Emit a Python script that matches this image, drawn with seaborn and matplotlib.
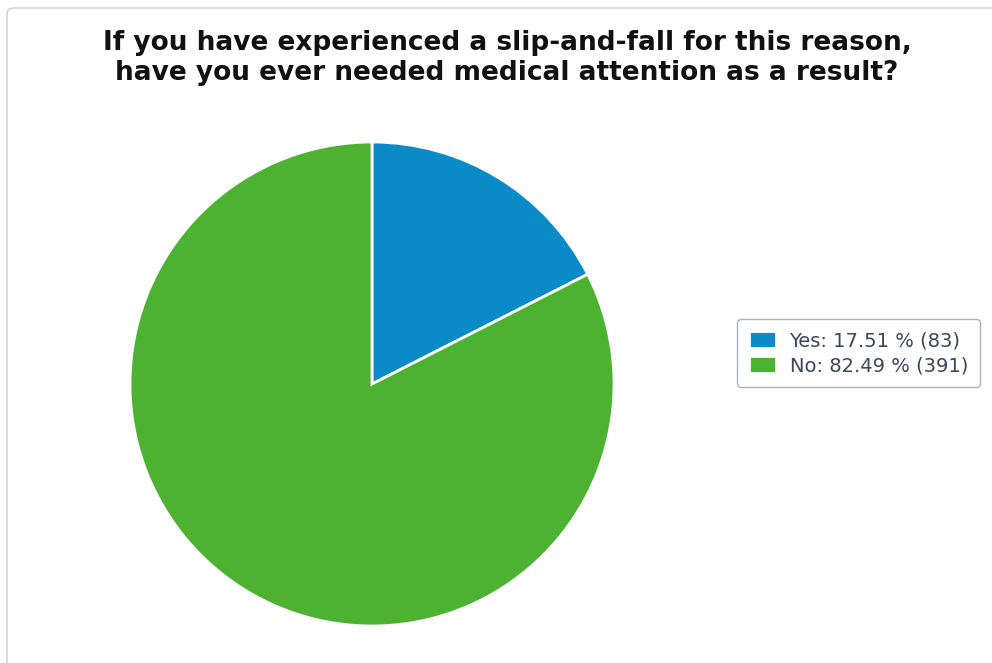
import matplotlib
matplotlib.use("Agg")
import matplotlib.pyplot as plt
from matplotlib.patches import FancyBboxPatch
import seaborn as sns

labels = ["Yes", "No"]
percents = [17.51, 82.49]
counts = [83, 391]
colors = ["#0a8bc8", "#4db232"]
title = ("If you have experienced a slip-and-fall for this reason,\n"
         "have you ever needed medical attention as a result?")

sns.set_theme(style="white")
plt.rcParams["font.family"] = ["DejaVu Sans"]

W, H = 992, 663
fig = plt.figure(figsize=(W / 100, H / 100), dpi=100)
fig.patch.set_facecolor("white")

# panel frame, drawn behind everything
frame = FancyBboxPatch((7 / W, -20 / H), (W + 20) / W, (H + 12) / H,
                       boxstyle="round,pad=0,rounding_size=0.008",
                       transform=fig.transFigure, facecolor="none",
                       edgecolor="#d4d4d4", linewidth=1.2, zorder=-5)
fig.patches.append(frame)

# pie: center (372, 384), radius 242 px
cx, cy, r = 372, 384, 242
ax = fig.add_axes([(cx - r) / W, (H - cy - r) / H, 2 * r / W, 2 * r / H])
ax.patch.set_alpha(0)
wedges, _ = ax.pie(percents, colors=colors, startangle=90, counterclock=False,
                   wedgeprops=dict(edgecolor="white", linewidth=2))
ax.set_xlim(-1.0, 1.0)
ax.set_ylim(-1.0, 1.0)
ax.set_aspect("equal")

fig.text(507 / W, 1 - 58 / H, title, ha="center", va="center",
         fontsize=19, fontweight="bold", color="#111111", linespacing=1.25)

leg_labels = [f"{l}: {p:.2f} % ({c})" for l, p, c in zip(labels, percents, counts)]
leg = fig.legend(wedges, leg_labels, loc="center left",
                 bbox_to_anchor=(737 / W, 1 - 353 / H),
                 fontsize=14, frameon=True, fancybox=True,
                 handlelength=1.4, handleheight=1.0, handletextpad=0.7,
                 labelspacing=0.3, borderpad=0.6, borderaxespad=0,
                 labelcolor="#3b4656")
leg.get_frame().set_edgecolor("#9aa0a6")
leg.get_frame().set_linewidth(1.0)

fig.savefig("out.png", dpi=100)
